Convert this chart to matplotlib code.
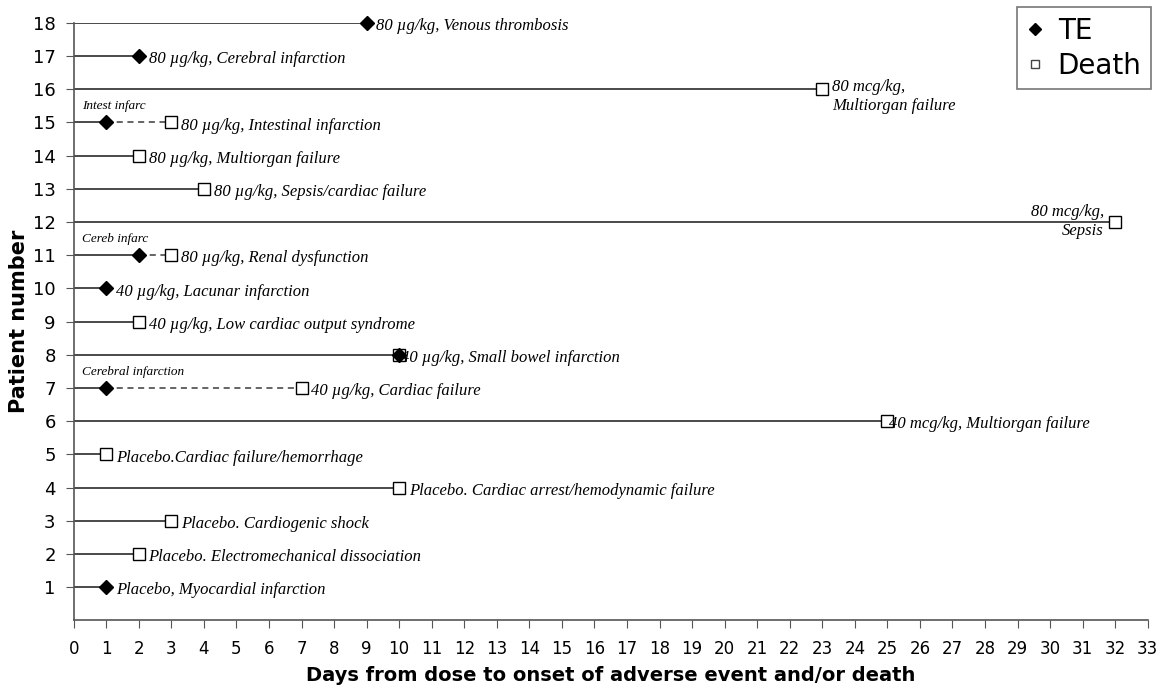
import matplotlib
matplotlib.use("Agg")
import matplotlib.pyplot as plt
from matplotlib.lines import Line2D

# one row per patient (1..18)
patients = list(range(1, 19))
te_day = [1, None, None, None, None, None, 1, 10, None, 1, 2, None, None, None, 1, None, 2, 9]
death_day = [None, 2, 3, 10, 1, 25, 7, 10, 2, None, 3, 32, 4, 2, 3, 23, None, None]
labels = [
    "Placebo, Myocardial infarction",
    "Placebo. Electromechanical dissociation",
    "Placebo. Cardiogenic shock",
    "Placebo. Cardiac arrest/hemodynamic failure",
    "Placebo.Cardiac failure/hemorrhage",
    "40 mcg/kg, Multiorgan failure",
    "40 \u00b5g/kg, Cardiac failure",
    "40 \u00b5g/kg, Small bowel infarction",
    "40 \u00b5g/kg, Low cardiac output syndrome",
    "40 \u00b5g/kg, Lacunar infarction",
    "80 \u00b5g/kg, Renal dysfunction",
    "80 mcg/kg,\nSepsis",
    "80 \u00b5g/kg, Sepsis/cardiac failure",
    "80 \u00b5g/kg, Multiorgan failure",
    "80 \u00b5g/kg, Intestinal infarction",
    "80 mcg/kg,\nMultiorgan failure",
    "80 \u00b5g/kg, Cerebral infarction",
    "80 \u00b5g/kg, Venous thrombosis",
]
notes = {15: "Intest infarc", 11: "Cereb infarc", 7: "Cerebral infarction"}

line_c = "#3a3a3a"
serif = "Liberation Serif"

fig = plt.figure(figsize=(11.7, 6.9), dpi=100)
ax = fig.add_axes([0.063, 0.101, 0.918, 0.866])

for p, te, dd, lab in zip(patients, te_day, death_day, labels):
    first = te if te is not None else dd
    last = max(d for d in (te, dd) if d is not None)
    ax.plot([0, first], [p, p], color=line_c, lw=1.3, zorder=2)
    if dd is not None and te is not None and dd > te:
        ax.plot([te, dd], [p, p], color=line_c, lw=1.1, ls=(0, (4, 3)), zorder=2)
    if dd is not None:
        ax.plot(dd, p, marker="s", ms=8, mfc="white", mec="black", mew=1.0,
                ls="none", zorder=3, clip_on=False)
    if te is not None:
        ax.plot(te, p, marker="D", ms=7, color="black", ls="none", zorder=4, clip_on=False)

    if p == 12:
        ax.text(last - 0.35, p, lab, ha="right", va="center", fontsize=12,
                style="italic", family=serif, linespacing=1.25)
    elif p == 16:
        ax.text(last + 0.3, p + 0.3, lab, ha="left", va="top", fontsize=12,
                style="italic", family=serif, linespacing=1.25)
    else:
        off = 0.05 if p in (6, 8) else 0.3
        ax.text(last + off, p - 0.1, lab, ha="left", va="center", fontsize=12,
                style="italic", family=serif)

for p, txt in notes.items():
    ax.text(0.25, p + 0.3, txt, ha="left", va="bottom", fontsize=9.5,
            style="italic", family=serif)

ax.set_xlim(0, 33)
ax.set_ylim(0, 18)
ax.set_xticks(range(0, 34))
ax.set_yticks(range(1, 19))
ax.tick_params(axis="x", labelsize=12, length=6, direction="out", pad=8, color="#555555")
ax.tick_params(axis="y", labelsize=13, length=6, direction="out", pad=7, color="#555555")
for s in ("top", "right"):
    ax.spines[s].set_visible(False)
for s in ("left", "bottom"):
    ax.spines[s].set_color("#555555")
    ax.spines[s].set_linewidth(1.2)

ax.set_xlabel("Days from dose to onset of adverse event and/or death",
              fontsize=14, fontweight="bold", labelpad=6)
ax.set_ylabel("Patient number", fontsize=15, fontweight="bold", labelpad=3)

handles = [
    Line2D([], [], marker="D", color="black", ls="none", ms=6),
    Line2D([], [], marker="s", mfc="white", mec="#444444", ls="none", ms=6),
]
leg = fig.legend(handles, ["TE", "Death"], loc="upper right",
                 bbox_to_anchor=(0.984, 0.99), borderaxespad=0, fontsize=20,
                 frameon=True, fancybox=False, edgecolor="#555555",
                 handlelength=0.6, handletextpad=0.5, borderpad=0.35,
                 labelspacing=0.25)
leg.get_frame().set_linewidth(1.2)

plt.savefig("out.png", dpi=100)
